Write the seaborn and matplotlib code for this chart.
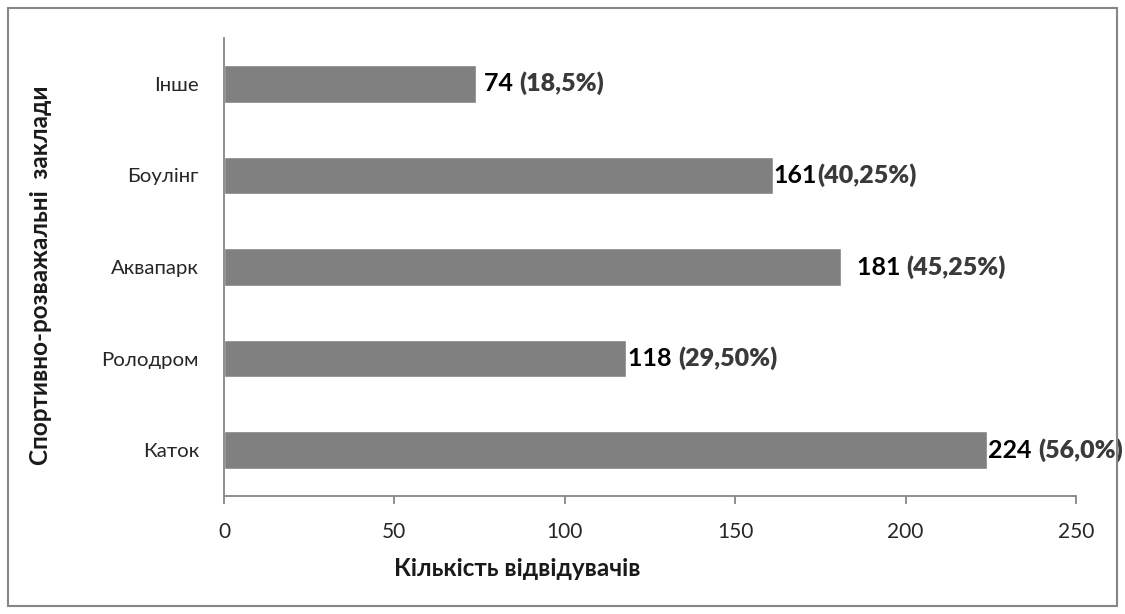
import matplotlib
matplotlib.use("Agg")
import matplotlib.pyplot as plt
import seaborn as sns
import pandas as pd
from matplotlib.patches import Rectangle

# Data
categories = ["Інше", "Боулінг", "Аквапарк", "Ролодром", "Каток"]
visitors = [74, 161, 181, 118, 224]
value_labels = ["74 ", "161", "181 ", "118 ", "224 "]
pct_labels = ["(18,5%)", "(40,25%)", "(45,25%)", "(29,50%)", "(56,0%)"]
x_ticks = [0, 50, 100, 150, 200, 250]

# gap (px) between bar end and its label
label_gap_px = [8, 1, 16, 2, 1]

sns.set_theme(style="white")
plt.rcParams["font.family"] = ["Lato", "DejaVu Sans"]

df = pd.DataFrame({"category": categories, "visitors": visitors})

fig = plt.figure(figsize=(11.25, 6.14), dpi=100)
ax = fig.add_axes([224 / 1125, 1 - 496 / 614, (1076 - 224) / 1125, (496 - 38) / 614])

sns.barplot(data=df, x="visitors", y="category", order=categories, orient="h",
            color="#808080", saturation=1, width=0.41, ax=ax)

ax.set_xlim(0, 250)
ax.set_ylim(len(categories) - 0.5, -0.5)
ax.set_xticks(x_ticks)
ax.set_xticklabels([str(t) for t in x_ticks])

axis_color = "#868686"
for side in ["top", "right"]:
    ax.spines[side].set_visible(False)
for side in ["left", "bottom"]:
    ax.spines[side].set_color(axis_color)
    ax.spines[side].set_linewidth(1.3)

ax.tick_params(axis="x", which="major", direction="out", length=6, width=1.3,
               color=axis_color, labelsize=15, labelcolor="#262626", pad=13, bottom=True)
ax.tick_params(axis="y", length=0, labelsize=14.7, labelcolor="#262626", pad=18)

ax.set_xlabel("Кількість відвідувачів", fontsize=17.5, fontweight="bold", color="#1a1a1a")
ax.set_ylabel("Спортивно-розважальні  заклади", fontsize=17.5, fontweight="bold", color="#1a1a1a")
ax.xaxis.set_label_coords(0.344, -0.133)
ax.yaxis.set_label_coords(-0.202, 0.483)

# value labels: bold count in black, share in dark grey
for i, (v, vl, pl, gap) in enumerate(zip(visitors, value_labels, pct_labels, label_gap_px)):
    t1 = ax.annotate(vl, xy=(v, i), xytext=(gap * 0.72, 0), textcoords="offset points",
                     ha="left", va="center", fontsize=18, fontweight="bold", color="#000000")
    ax.annotate(pl, xy=(1, 0), xycoords=t1, ha="left", va="bottom",
                fontsize=18, fontweight="heavy", color="#3a3a3a")

# outer chart border
fig.patches.append(Rectangle((8 / 1125, 8 / 614), (1117 - 8) / 1125, (606 - 8) / 614,
                             transform=fig.transFigure, fill=False,
                             edgecolor=axis_color, linewidth=1.5))

fig.savefig("out.png", dpi=100)
